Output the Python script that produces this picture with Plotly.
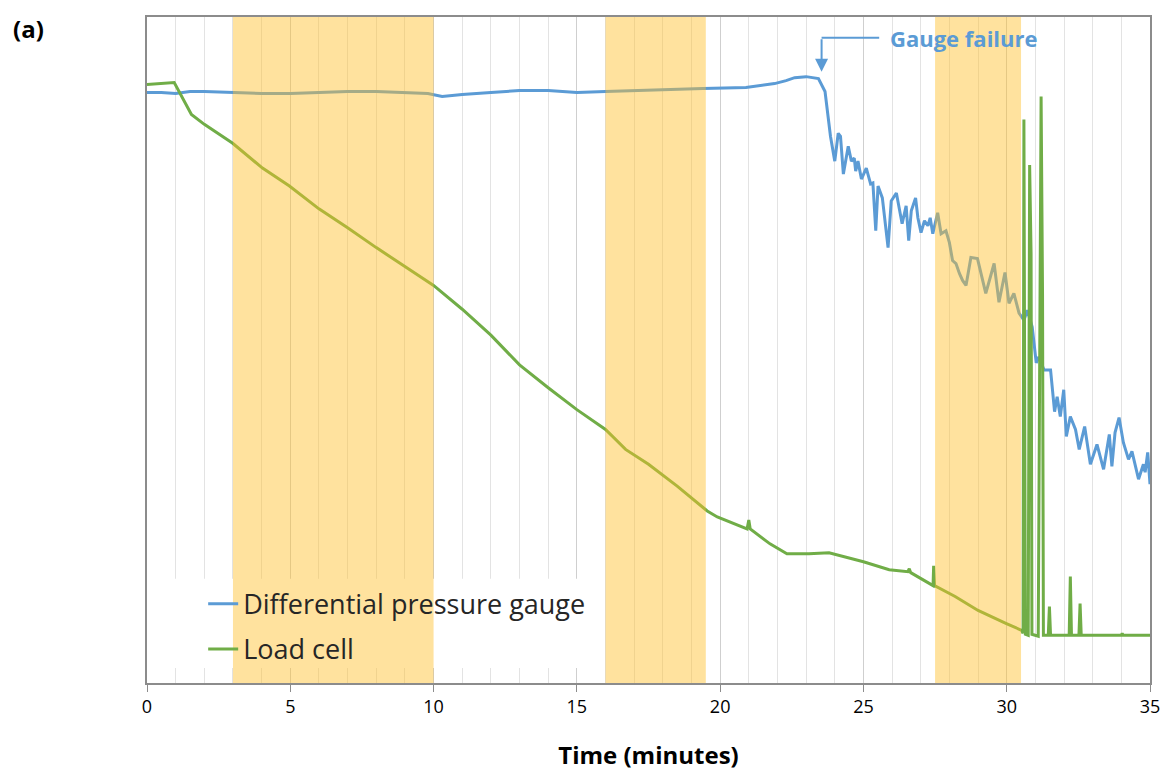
import plotly.graph_objects as go

# --- Data ------------------------------------------------------------------
# signal level in arbitrary units (chart has no y scale)
PRESSURE_T = [0, 0.5, 1.0, 1.5, 2.0, 3.0, 4.0, 5.0, 6.0, 7.0, 8.0, 9.0, 9.8, 10.3, 11, 12, 13, 14,
              15, 16, 17, 18, 19.4, 20.9, 21.5, 21.9, 22.3, 22.6, 23.0, 23.43, 23.66, 23.77, 23.85,
              24.0, 24.12, 24.2, 24.3, 24.47, 24.58, 24.68, 24.73, 24.81, 24.93, 25.1, 25.25, 25.33,
              25.43, 25.51, 25.66, 25.86, 25.97, 26.15, 26.35, 26.49, 26.58, 26.67, 26.82, 26.9,
              27.01, 27.13, 27.25, 27.33, 27.42, 27.59, 27.71, 27.88, 28.0, 28.11, 28.23, 28.35,
              28.46, 28.58, 28.75, 28.98, 29.27, 29.56, 29.73, 29.94, 30.08, 30.25, 30.43, 30.6,
              30.72, 30.89, 31.03, 31.12, 31.3, 31.53, 31.67, 31.76, 31.87, 31.99, 32.08, 32.22,
              32.4, 32.53, 32.72, 32.92, 33.15, 33.38, 33.58, 33.67, 33.78, 33.92, 34.07, 34.25,
              34.37, 34.6, 34.77, 34.83, 34.92, 35.0]
PRESSURE_V = [594, 594, 593, 595, 595, 594, 593, 593, 594, 595, 595, 594, 593, 590, 592, 594, 596, 596,
              594, 595, 596, 597, 598, 599, 601, 603, 606, 609, 610, 608, 595, 565, 550,
              525, 553, 550, 512, 540, 525, 528, 515, 525, 507, 518, 502, 503,
              455, 500, 488, 438, 485, 493, 462, 480, 445, 475, 488, 468,
              453, 465, 460, 468, 452, 473, 452, 455, 443, 425, 422, 412,
              405, 400, 428, 427, 392, 422, 383, 413, 382, 392, 372, 365,
              375, 358, 322, 328, 315, 315, 273, 288, 268, 295, 248, 268,
              255, 235, 258, 220, 240, 215, 250, 218, 252, 267, 242, 225,
              233, 205, 220, 212, 232, 200]

LOAD_T = [0, 0.5, 0.95, 1.55, 2.0, 2.99, 4.03, 4.97, 6.0, 7, 8, 9, 10, 11, 12, 13, 14, 15, 16,
          16.7, 17.5, 18.5, 19.55, 19.9, 20.94, 21.0, 21.05, 21.74, 22.33, 23.1, 23.8, 25.0, 25.9,
          26.55, 26.6, 26.65, 27.43, 27.45, 27.48, 28.2, 29.0, 29.97, 30.52, 30.57, 30.6, 30.65,
          30.75, 30.8, 30.85, 30.88, 31.1, 31.2, 31.25, 31.28, 31.45, 31.49, 31.53, 32.18, 32.22,
          32.26, 32.52, 32.56, 32.6, 34.0, 34.03, 34.06, 35.0]
LOAD_V = [602, 603, 604, 572, 562, 543, 518, 500, 477, 458, 438, 419, 400, 376, 350, 320, 297, 275, 255,
          235, 220, 198, 173, 167, 155, 164, 155, 140, 130, 130, 131, 122, 114,
          112, 115, 111, 98, 118, 98, 87, 73, 60, 53, 50, 567, 49,
          48, 521, 432, 49, 47, 590, 390, 48, 48, 77, 48, 48, 107,
          48, 48, 80, 48, 48, 50, 48, 48]

# shaded periods (minutes)
BANDS = [(3, 10), (16, 19.5), (27.5, 30.5)]

BLUE = "#5B9BD5"
GREEN = "#70AD47"
FONT = "Open Sans"

# --- Figure ----------------------------------------------------------------
fig = go.Figure()
fig.add_trace(go.Scatter(x=PRESSURE_T, y=PRESSURE_V, mode="lines", name="Differential pressure gauge",
                         legendgroup="p", line=dict(color=BLUE, width=3)))
fig.add_trace(go.Scatter(x=LOAD_T, y=LOAD_V, mode="lines", name="Load cell",
                         legendgroup="l", line=dict(color=GREEN, width=3)))

# white box behind legend hides the gridlines
fig.add_shape(type="rect", x0=0.5, x1=15.6, y0=15, y1=105, layer="between",
              fillcolor="white", line_width=0)

for a, b in BANDS:
    fig.add_shape(type="rect", x0=a, x1=b, y0=0, y1=1, yref="paper", layer="above",
                  fillcolor="rgba(255,190,40,0.45)", line_width=0)

# gauge failure callout: elbow line + arrow
fig.add_shape(type="line", x0=25.55, x1=23.54, y0=649, y1=649, line=dict(color=BLUE, width=2))
fig.add_annotation(x=23.54, y=615, ax=23.54, ay=649, axref="x", ayref="y", text="",
                   showarrow=True, arrowhead=2, arrowsize=1.3, arrowwidth=2, arrowcolor=BLUE)
fig.add_annotation(x=25.85, y=649, text="<b>Gauge failure</b>", showarrow=False, xanchor="left",
                   font=dict(family=FONT, size=22, color=BLUE))
fig.add_annotation(x=-0.136, y=0.983, xref="paper", yref="paper", text="<b>(a)</b>", showarrow=False,
                   xanchor="left", yanchor="middle", font=dict(family=FONT, size=24, color="black"))

# page body adds an 8px offset, so the figure is a bit smaller than the window
fig.update_layout(
    width=1159, height=764,
    margin=dict(l=139, r=11, t=7, b=87),
    plot_bgcolor="white", paper_bgcolor="white",
    font=dict(family=FONT, color="black"),
    legend=dict(x=0.056, y=0.155, xanchor="left", yanchor="top", bgcolor="rgba(0,0,0,0)",
                font=dict(family=FONT, size=27, color="#262626"), tracegroupgap=7),
)
fig.update_xaxes(range=[0, 35], dtick=5, ticks="outside", ticklen=7, tickcolor="#8c8c8c",
                 showline=True, linecolor="#8c8c8c", linewidth=1.5, mirror=True,
                 showgrid=True, gridcolor="#cfcfcf", gridwidth=1, zeroline=False,
                 minor=dict(dtick=1, showgrid=True, gridcolor="#e3e3e3", ticks=""),
                 ticklabeloverflow="allow",
                 tickfont=dict(family=FONT, size=18, color="black"),
                 title=dict(text="<b>Time (minutes)</b>", font=dict(family=FONT, size=24), standoff=30))
fig.update_yaxes(range=[0, 670], showticklabels=False, showgrid=False, zeroline=False,
                 showline=True, linecolor="#8c8c8c", linewidth=1.5, mirror=True, ticks="")

fig.write_html("out.html")
